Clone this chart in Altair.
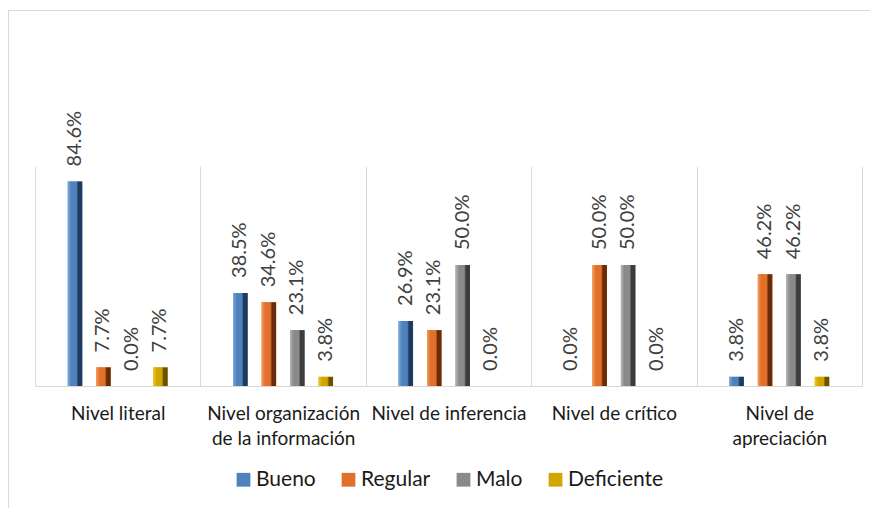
import altair as alt
import pandas as pd

categories = ["Nivel literal", "Nivel organización de la información", "Nivel de inferencia",
              "Nivel de crítico", "Nivel de apreciación"]
label_lines = [["Nivel literal"], ["Nivel organización", " de la información"], ["Nivel de inferencia"],
               ["Nivel de crítico"], ["Nivel de", "apreciación"]]
series = ["Bueno", "Regular", "Malo", "Deficiente"]
bueno = [0.846, 0.385, 0.269, 0.0, 0.038]
regular = [0.077, 0.346, 0.231, 0.5, 0.462]
malo = [0.0, 0.231, 0.5, 0.5, 0.462]
deficiente = [0.077, 0.038, 0.0, 0.0, 0.038]

main_colors = ["#4f81bd", "#e0702a", "#8a8a8a", "#d2a600"]
light_colors = ["#7ea9dc", "#f59a5c", "#b5b5b5", "#f0c830"]
dark_colors = ["#1e3a5e", "#6a2c08", "#3c3c3c", "#6a5200"]

rows = []
for s, vals in zip(series, [bueno, regular, malo, deficiente]):
    for c, v in zip(categories, vals):
        rows.append({"cat": c, "serie": s, "val": v})
df = pd.DataFrame(rows)

expr_parts = []
for c, lines in zip(categories, label_lines):
    arr = "[" + ",".join("'" + l + "'" for l in lines) + "]"
    expr_parts.append(f"datum.value == '{c}' ? {arr} : ")
label_expr = "".join(expr_parts) + "datum.value"

x_enc = alt.X("cat:N", sort=categories, title=None,
              scale=alt.Scale(paddingInner=0, paddingOuter=0),
              axis=alt.Axis(labelAngle=0, labelFontSize=19, labelFont="Lato", labelColor="#1a1a1a",
                            labelLimit=0, labelPadding=18, labelLineHeight=25, labelBaseline="top",
                            ticks=False, grid=True, tickBand="extent", gridColor="#d9d9d9",
                            domainColor="#d9d9d9", labelExpr=label_expr))
xo_enc = alt.XOffset("serie:N", sort=series,
                     scale=alt.Scale(paddingInner=0, paddingOuter=0.905))
y_enc = alt.Y("val:Q", scale=alt.Scale(domain=[0, 0.91]), axis=None)

BW = 14.5
base = alt.Chart(df)

bars = base.mark_bar(width=BW).encode(
    x=x_enc, xOffset=xo_enc, y=y_enc,
    color=alt.Color("serie:N", sort=series,
                    scale=alt.Scale(domain=series, range=main_colors),
                    legend=alt.Legend(title=None, orient="none", legendX=198, legendY=303,
                                      direction="horizontal", symbolType="square", symbolSize=190,
                                      symbolStrokeWidth=0, labelFontSize=21, labelFont="Lato",
                                      labelColor="#1a1a1a", columnPadding=22, labelOffset=2)),
)

layers = [bars]
for s, m, l, d in zip(series, main_colors, light_colors, dark_colors):
    grad = alt.Gradient(gradient="linear", x1=0, x2=1, y1=0, y2=0,
                        stops=[alt.GradientStop(offset=0, color=l),
                               alt.GradientStop(offset=0.25, color=m),
                               alt.GradientStop(offset=0.6, color=m),
                               alt.GradientStop(offset=0.72, color=d),
                               alt.GradientStop(offset=1, color=d)])
    layers.append(base.transform_filter(alt.datum.serie == s).mark_bar(color=grad, width=BW).encode(
        x=x_enc, xOffset=xo_enc, y=y_enc))

labels = base.mark_text(angle=270, align="left", baseline="middle", dx=15,
                        fontSize=20, font="Lato", color="#404040").encode(
    x=x_enc, xOffset=xo_enc, y=y_enc, text=alt.Text("val:Q", format=".1%"))
layers.append(labels)

frame = pd.DataFrame({"a": [0]})
top_line = alt.Chart(frame).mark_rule(color="#d9d9d9", strokeWidth=1).encode(
    x=alt.value(-27), x2=alt.value(860), y=alt.value(-155.5))
left_line = alt.Chart(frame).mark_rule(color="#d9d9d9", strokeWidth=1).encode(
    x=alt.value(-26.5), y=alt.value(-155.5), y2=alt.value(360))
layers += [top_line, left_line]

chart = alt.layer(*layers).properties(
    width=827, height=220,
    autosize=alt.AutoSizeParams(type="none"),
    padding={"left": 27, "top": 158, "right": 8, "bottom": 122},
).configure_view(strokeWidth=0)

chart.save("out.html", embed_options={"renderer": "svg", "actions": False})
